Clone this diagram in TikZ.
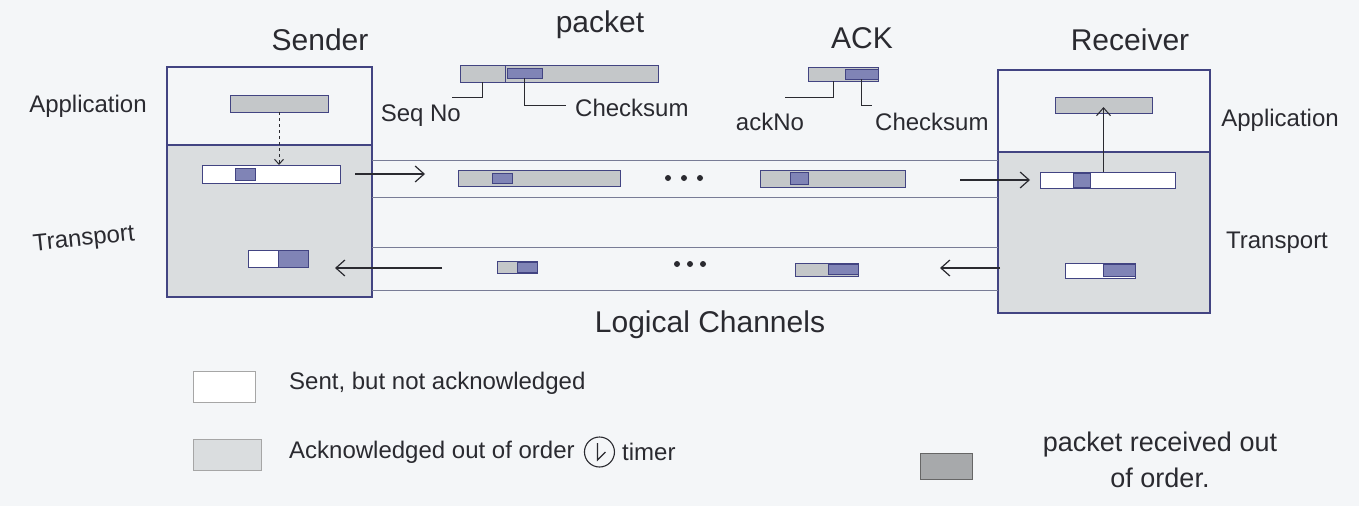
\documentclass[tikz,border=0pt]{standalone}
\usepackage{fontspec}
\setmainfont{Liberation Sans}
\usetikzlibrary{arrows.meta,positioning}
\definecolor{paper}{RGB}{244,246,248}
\definecolor{inkblue}{RGB}{66,68,130}
\definecolor{inkblack}{RGB}{42,42,48}
\definecolor{layershade}{RGB}{218,221,223}
\definecolor{pktgray}{RGB}{196,199,201}
\definecolor{cellblue}{RGB}{128,132,182}
\definecolor{chanline}{RGB}{120,124,150}
\tikzset{
  hand/.style={font=\fontsize{24}{28}\selectfont, text=inkblack, inner sep=1pt},
  heading/.style={font=\fontsize{30}{34}\selectfont, text=inkblack, inner sep=1pt},
  pkt/.style={draw=inkblue, line width=1pt, fill=pktgray, anchor=north west, inner sep=0pt, outer sep=0pt},
  pktwhite/.style={pkt, fill=white},
  cell/.style={draw=inkblue, line width=1pt, fill=cellblue, anchor=north west, inner sep=0pt, outer sep=0pt},
  layerbox/.style={draw=inkblue, line width=1.3pt},
  chan/.style={draw=chanline, line width=0.9pt},
  lead/.style={draw=inkblack, line width=1pt},
  flow/.style={draw=inkblack, line width=1.2pt, -{Straight Barb[length=9pt, width=16pt]}},
  legendbox/.style={draw=gray!70, line width=1pt, anchor=north west, inner sep=0pt},
  dot/.style={circle, fill=inkblack, inner sep=0pt, minimum size=6pt}
}
\begin{document}
\begin{tikzpicture}[x=1pt, y=-1pt]
\useasboundingbox (0,0) rectangle (1359,506);
\fill[paper] (0,0) rectangle (1359,506);

% layer boxes
\fill[layershade] (167,145) rectangle (372,297);
\draw[layerbox] (167,67) rectangle (372,297);
\draw[layerbox] (167,145) -- (372,145);
\fill[layershade] (998,152) rectangle (1210,313);
\draw[layerbox] (998,70) rectangle (1210,313);
\draw[layerbox] (998,152) -- (1210,152);
\draw[inkblue, line width=2.6pt] (1210,72) -- (1210,313);

% logical channels
\foreach \y in {160,197,247,290}
  \draw[chan] (372,\y) -- (998,\y);

% headings
\node[heading] (snd) at (320,40) {Sender};
\node[heading] (pkttitle) at (600,25) {packet};
\node[heading] (acktitle) at (862,38) {ACK};
\node[heading] (rcv) at (1130,40) {Receiver};
\node[heading] (chans) at (710,325) {Logical Channels};
\node[hand] (appL) at (88,106) {Application};
\node[hand, rotate=6] (tpL) at (84,240) {Transport};
\node[hand] (appR) at (1280,120) {Application};
\node[hand] (tpR) at (1277,243) {Transport};

% packet format
\node[pkt, minimum width=198pt, minimum height=17pt] (fmt) at (460,65) {};
\node[pkt, minimum width=45pt, minimum height=17pt] (fmtseq) at (460,65) {};
\node[cell, minimum width=35pt, minimum height=10pt] (fmtsum) at (507,68) {};
\coordinate (seqend) at (452,97);
\coordinate (sumend) at (566,105);
\draw[lead] (fmtseq.south) |- (seqend);
\draw[lead] (fmtsum.south) |- (sumend);
\node[hand, anchor=north east] (seqno) at (462,104) {Seq No};
\node[hand, anchor=west] (sumlbl) at (574,108) {Checksum};

% ACK format
\node[pkt, minimum width=70pt, minimum height=14pt] (ackfmt) at (808,67) {};
\node[cell, minimum width=33pt, minimum height=10pt] (ackfmtsum) at (845,69) {};
\coordinate (acknoend) at (785,97);
\coordinate (acksumend) at (872,105);
\draw[lead] ([xshift=-10pt]ackfmt.south) |- (acknoend);
\draw[lead] (ackfmtsum.south) |- (acksumend);
\node[hand] (ackno) at (770,122) {ackNo};
\node[hand, anchor=west] (acksumlbl) at (874,122) {Checksum};

% sender side
\node[pkt, minimum width=98pt, minimum height=17pt] (sApp) at (230,95) {};
\node[pktwhite, minimum width=138pt, minimum height=18pt] (sTp) at (202,165) {};
\node[cell, minimum width=20pt, minimum height=12pt] (sTpsum) at (235,168) {};
\draw[draw=inkblack, line width=1pt, dashed, -{Straight Barb[length=5pt, width=9pt]}] (sApp.south) -- (sApp.south |- sTp.north);
\node[pktwhite, minimum width=60pt, minimum height=17pt] (sAck) at (248,250) {};
\node[cell, minimum width=30pt, minimum height=17pt] (sAcksum) at (278,250) {};

% packets on the channels
\node[pkt, minimum width=162pt, minimum height=16pt] (cPk1) at (458,170) {};
\node[cell, minimum width=20pt, minimum height=10pt] (cPk1sum) at (492,173) {};
\foreach \x in {668,684,700}
  \node[dot] at (\x,178) {};
\node[pkt, minimum width=145pt, minimum height=17pt] (cPk2) at (760,170) {};
\node[cell, minimum width=18pt, minimum height=12pt] (cPk2sum) at (790,172) {};
\node[pkt, minimum width=40pt, minimum height=12pt] (cAck1) at (497,261) {};
\node[cell, minimum width=20pt, minimum height=10pt] (cAck1sum) at (517,262) {};
\foreach \x in {677,690,703}
  \node[dot] at (\x,264) {};
\node[pkt, minimum width=63pt, minimum height=13pt] (cAck2) at (795,263) {};
\node[cell, minimum width=30pt, minimum height=10pt] (cAck2sum) at (828,264) {};

% receiver side
\node[pkt, minimum width=97pt, minimum height=16pt] (rApp) at (1055,97) {};
\node[pktwhite, minimum width=135pt, minimum height=16pt] (rTp) at (1040,172) {};
\node[cell, minimum width=17pt, minimum height=14pt] (rTpsum) at (1073,173) {};
\draw[draw=inkblack, line width=1pt, -{Straight Barb[length=8pt, width=14pt]}] (rApp.south |- rTp.north) -- ([yshift=6pt]rApp.south);
\node[pktwhite, minimum width=70pt, minimum height=15pt] (rAck) at (1065,263) {};
\node[cell, minimum width=32pt, minimum height=12pt] (rAcksum) at (1103,264) {};

% transfer arrows
\coordinate (sOut) at (425,174);
\coordinate (rIn) at (1030,180);
\coordinate (rOut) at (1000,268);
\coordinate (sIn) at (335,268);
\draw[flow] ([xshift=15pt]sTp.east) -- (sOut);
\draw[flow] ([xshift=55pt]cPk2.east |- rIn) -- (rIn);
\draw[flow] (rOut) -- ([xshift=-60pt]rOut);
\draw[flow] ([xshift=107pt]sIn) -- (sIn);

% legend
\node[legendbox, fill=white, minimum width=62pt, minimum height=31pt] (keySent) at (193,371) {};
\node[hand, anchor=west] (keySentlbl) at (288,383) {Sent, but not acknowledged};
\node[legendbox, fill=layershade, minimum width=68pt, minimum height=31pt] (keyAck) at (193,439) {};
\node[hand, anchor=west] (keyAcklbl) at (288,452) {Acknowledged out of order};
\node[circle, draw=inkblack, line width=1.1pt, minimum size=30pt, inner sep=0pt, right=8pt of keyAcklbl] (clock) {};
\draw[draw=inkblack, line width=1.1pt] ([xshift=-2pt,yshift=9pt]clock.center) -- ([xshift=-2pt,yshift=-8pt]clock.center) -- ([xshift=6pt,yshift=0pt]clock.center);
\node[hand, right=6pt of clock] (clocklbl) {timer};
\node[legendbox, fill=pktgray!85!black, draw=gray!80!black, minimum width=52pt, minimum height=26pt] (keyRcv) at (920,453) {};
\node[hand, font=\fontsize{27}{36}\selectfont, align=center] (keyRcvlbl) at (1160,460) {packet received out\\of order.};
\end{tikzpicture}
\end{document}
